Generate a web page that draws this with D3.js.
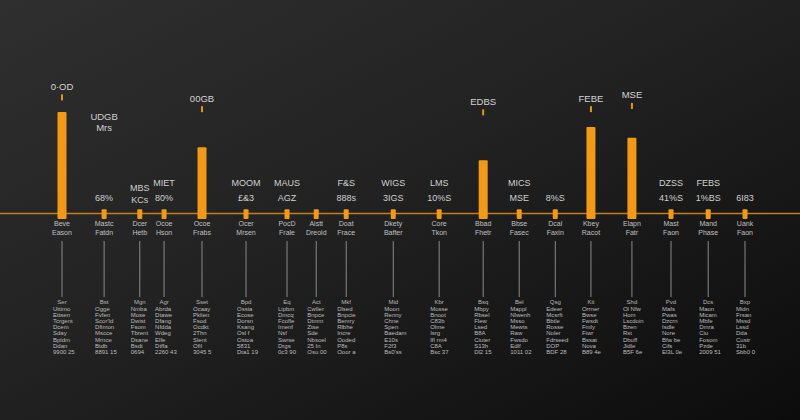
<!DOCTYPE html>
<html>
<head>
<meta charset="utf-8">
<script src="https://cdn.jsdelivr.net/npm/d3@7"></script>
<style>
  html, body { margin: 0; padding: 0; background: #1a1a1a; }
  svg { display: block; }
  text { font-family: "Liberation Sans", Arial, sans-serif; }
</style>
</head>
<body>
<svg id="chart" width="800" height="420"></svg>
<script>
// ---- data ----
const catLine1 = ["Beve","Mastc","Dcer","Ocoe","Ocoe","Ocer","PocD","Aistt","Doat","Dkety","Core","Bbad","Bbse","Dcal","Kbey","Elapn","Mast","Mand","Uank"];
const catLine2 = ["Eason","Fatdn","Hetb","Hson","Frabs","Mrsen","Frale","Dreold","Frace","Bafter","Tkon","Fhetr","Fasec","Faxin","Racot","Fatr","Faon","Phase","Faon"];
// position of each item along the track (track units)
const positions = [0, 1.11, 2.05, 2.69, 3.69, 4.85, 5.93, 6.70, 7.49, 8.73, 9.94, 11.10, 12.05, 13.00, 13.94, 15.02, 16.05, 17.03, 18.00];
const values = [100, 9, 9, 9, 67, 9, 9, 9, 9, 9, 9, 55, 9, 9, 86, 76, 9, 9, 9];
const upperLabels = ["", "", "MBS", "MIET", "", "MOOM", "MAUS", "", "F&S", "WIGS", "LMS", "", "MICS", "", "", "", "DZSS", "FEBS", ""];
const lowerLabels = ["", "68%", "KCs", "80%", "", "£&3", "AGZ", "", "888s", "3IGS", "10%S", "", "MSE", "8%S", "", "", "41%S", "1%BS", "6I83"];
const peakLabels = ["0·OD", "", "", "", "00GB", "", "", "", "", "", "", "EDBS", "", "", "FEBE", "MSE", "", "", ""];
const peakLabelValues = [123, 0, 0, 0, 112, 0, 0, 0, 0, 0, 0, 109, 0, 0, 112, 115, 0, 0, 0];
const noteIndex = 1;
const noteLines = ["UDGB", "Mrs"];
const noteValues = [95, 85];
const detailHeaders = ["Ser","Bst","Mgn","Agr","Sset","Bpd","Eq","Act","Mkf","Mid","Kbr","Bsq","Bel","Qsg","Kit","Shd","Pvd","Dcs","Bxp"];
const detailRows = [
  ["Uttimo","Ettsen","Tcrgent","Dcem","Sday","Bpldm","Ddan","9900 25"],
  ["Ogge","Fvfen","Scor'ld","Dfimon","Mscce","Mrnce","Btdb","8891 15"],
  ["Nmba","Mose","Dwist","Fsom","Tbrent","Dsane","Bsdt","0694"],
  ["Abrda","Dtawe","Dfang","Nfdda","Wdeg","Elfe","Dtffa","2260 43"],
  ["Ocaay","Pklien","Fsod","Ocdkt","2Thn","Slent","Ofil","3045 5"],
  ["Ossia","Ecose","Dorsn","Ksang","Osl f","Ostoa","5831","Dta1 19"],
  ["Lipbm","Dmcq","Fcofle","Imenf","Nsf","Swrse","Drgs","0c3 90"],
  ["Cwller","Bnpce","Dtmm","Ztse","Sde","Nbsoel","25 In","Osu 00"],
  ["Dlsed","Bnpcie","Bemry","Rlbhe","Incre","Ooded","P8s","Ooor a"],
  ["Moon","Renny","Chne","Spen","Baedam","E10s","F2f3","Bs0'ss"],
  ["Mosse","Bnoot","C83b","Olme","Isrg","Ifl rm4","C8A","Bsc 37"],
  ["Mbpy","Rbsel","Flew","Lsed","B8A","Ciuter","S13h","Dl2 15"],
  ["Mappl","Nlwenh","Msso","Mewts","Raw","Fwsdo","Edlf","1011 02"],
  ["Edeer","Mcsrft","Bbtle","Rosse","Noler","Fdrseed","DOP","BDF 28"],
  ["Orrner","Bwse","Fwsdt","Fmly","Fiwr","Bssat","Nova","B89 4e"],
  ["Ol Nfw","Hom","Lscdoin","Bzen","Rst","Dbuff","Jidle","B5F 6e"],
  ["Mafs","Pwas","Dzcrn","Isdle","Nore","Bfw be","Cifs","El3L 0e"],
  ["Maon","Micam","Mbfe","Dmra","Ciu","Fosom","Pzde","2009 51"],
  ["Midn","Frsan","Mssd","Lssd","Dda","Custr","31b","Sbb0 0"]
];

// ---- chart ----
const W = 800, H = 420;
const svg = d3.select("#chart");

const defs = svg.append("defs");
const bg = defs.append("linearGradient").attr("id", "bg")
  .attr("x1", "0%").attr("y1", "0%").attr("x2", "100%").attr("y2", "100%");
bg.append("stop").attr("offset", "0%").attr("stop-color", "#2f2f2f");
bg.append("stop").attr("offset", "45%").attr("stop-color", "#222222");
bg.append("stop").attr("offset", "100%").attr("stop-color", "#0c0c0c");
svg.append("rect").attr("width", W).attr("height", H).attr("fill", "url(#bg)");

const x = d3.scaleLinear().domain([0, 18]).range([62, 745]);
const y = d3.scaleLinear().domain([0, 100]).range([219, 112]);
const baseY = 213.5;

const idx = d3.range(values.length);

// baseline
svg.append("line").attr("x1", 0).attr("x2", W).attr("y1", baseY).attr("y2", baseY)
  .attr("stroke", "#c77d1c").attr("stroke-width", 1.6);

// bars
svg.append("g").selectAll("rect").data(idx).join("rect")
  .attr("x", i => x(positions[i]) - (values[i] > 30 ? 4.5 : 2.5))
  .attr("width", i => values[i] > 30 ? 9 : 5)
  .attr("y", i => y(values[i]))
  .attr("height", i => y(0) - y(values[i]))
  .attr("rx", 1)
  .attr("fill", "#f29a17");

// peak labels + ticks
const peaks = idx.filter(i => peakLabels[i]);
svg.append("g").selectAll("text").data(peaks).join("text")
  .attr("x", i => x(positions[i])).attr("y", i => y(peakLabelValues[i]))
  .attr("text-anchor", "middle").attr("dominant-baseline", "middle")
  .attr("font-size", 9.5).attr("fill", "#d4d4d4").text(i => peakLabels[i]);
svg.append("g").selectAll("rect").data(peaks).join("rect")
  .attr("x", i => x(positions[i]) - 1).attr("width", 2)
  .attr("y", i => y(peakLabelValues[i]) + 7).attr("height", 6)
  .attr("fill", "#e8921a");

// floating note
svg.append("g").selectAll("text").data(noteLines).join("text")
  .attr("x", x(positions[noteIndex])).attr("y", (d, j) => y(noteValues[j]))
  .attr("text-anchor", "middle").attr("dominant-baseline", "middle")
  .attr("font-size", 9.5).attr("fill", "#d0d0d0").text(d => d);

// upper / lower labels
svg.append("g").selectAll("text").data(idx.filter(i => upperLabels[i])).join("text")
  .attr("x", i => x(positions[i])).attr("y", i => baseY - (i === 2 ? 25 : 30))
  .attr("text-anchor", "middle").attr("dominant-baseline", "middle")
  .attr("font-size", 9).attr("fill", "#d0d0d0").text(i => upperLabels[i]);
svg.append("g").selectAll("text").data(idx.filter(i => lowerLabels[i])).join("text")
  .attr("x", i => x(positions[i])).attr("y", i => baseY - (i === 2 ? 13 : 15))
  .attr("text-anchor", "middle").attr("dominant-baseline", "middle")
  .attr("font-size", 9).attr("fill", "#d0d0d0").text(i => lowerLabels[i]);

// category labels
const cat = svg.append("g");
cat.selectAll("text.l1").data(idx).join("text").attr("class", "l1")
  .attr("x", i => x(positions[i])).attr("y", 224)
  .attr("text-anchor", "middle").attr("dominant-baseline", "middle")
  .attr("font-size", 7).attr("fill", "#c0c0c0").text(i => catLine1[i]);
cat.selectAll("text.l2").data(idx).join("text").attr("class", "l2")
  .attr("x", i => x(positions[i])).attr("y", 233)
  .attr("text-anchor", "middle").attr("dominant-baseline", "middle")
  .attr("font-size", 7).attr("fill", "#c0c0c0").text(i => catLine2[i]);

// leader lines
svg.append("g").selectAll("line").data(idx).join("line")
  .attr("x1", i => x(positions[i])).attr("x2", i => x(positions[i]))
  .attr("y1", 241).attr("y2", 297)
  .attr("stroke", "#8a8a8a").attr("stroke-width", 1);

// detail blocks
const det = svg.append("g");
det.selectAll("text.h").data(idx).join("text").attr("class", "h")
  .attr("x", i => x(positions[i])).attr("y", 302)
  .attr("text-anchor", "middle").attr("dominant-baseline", "middle")
  .attr("font-size", 6).attr("fill", "#b8b8b8").text(i => detailHeaders[i]);
idx.forEach(i => {
  det.append("g").selectAll("text").data(detailRows[i]).join("text")
    .attr("x", x(positions[i]) - 9).attr("y", (d, r) => 309.5 + r * 6.1)
    .attr("dominant-baseline", "middle")
    .attr("font-size", 6).attr("fill", "#bcbcbc").text(d => d);
});
</script>
</body>
</html>
